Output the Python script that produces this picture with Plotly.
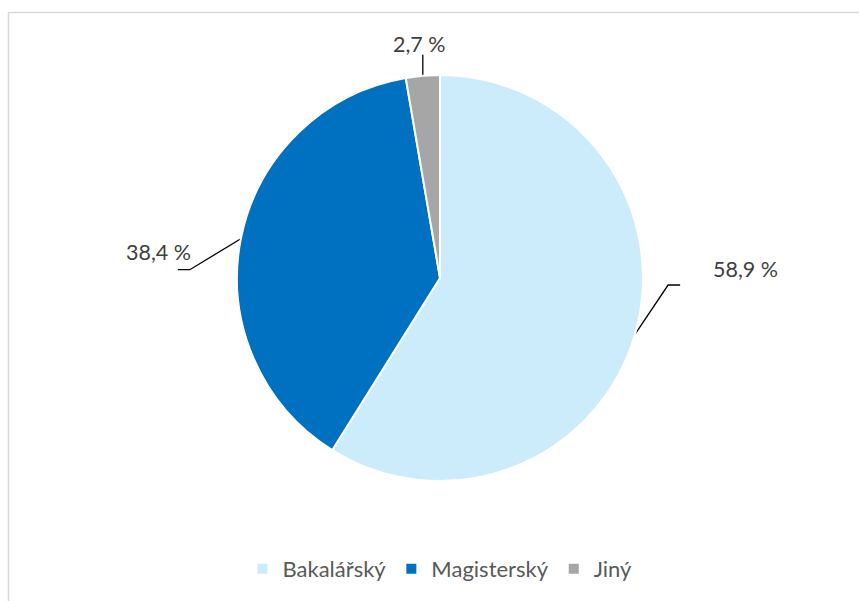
import math
import plotly.graph_objects as go

# ---- data ----
categories = ["Bakalářský", "Magisterský", "Jiný"]
values = [58.9, 38.4, 2.7]
value_labels = ["58,9 %", "38,4 %", "2,7 %"]

# ---- style ----
colors = ["#CCECFC", "#0070C0", "#A6A6A6"]
W, H = 859, 601
CX, CY, R = 440, 278, 203  # pie centre and radius in pixels
FONT = "Lato, 'DejaVu Sans', sans-serif"
TXT = "#595959"
LBL = "#404040"

# leader-line geometry per slice (pixel offsets from slice edge point)
elbow_off = [(33, -49), (-51, 31), (0, -21)]
tail_len = [12, -12, 0]
text_off = [(76, -65), (-48, 13), (-3, -32)]
text_anchor = ["left", "right", "center"]

fig = go.Figure()

fig.add_trace(go.Pie(
    labels=categories, values=values, sort=False, direction="clockwise",
    rotation=0, marker=dict(colors=colors, line=dict(color="white", width=2)),
    textinfo="none", hoverinfo="label+percent",
    domain=dict(x=[(CX - R) / W, (CX + R) / W], y=[1 - (CY + R) / H, 1 - (CY - R) / H]),
    showlegend=True,
))

total = sum(values)
cum = 0
annotations = []
for i, v in enumerate(values):
    mid = (cum + v / 2) / total * 2 * math.pi
    cum += v
    ex = CX + R * math.sin(mid)
    ey = CY - R * math.cos(mid)
    bx, by = ex + elbow_off[i][0], ey + elbow_off[i][1]
    tx, ty = bx + tail_len[i], by
    fig.add_trace(go.Scatter(
        x=[ex, bx, tx], y=[ey, by, ty], mode="lines",
        line=dict(color="#000000", width=1.3), showlegend=False, hoverinfo="skip",
        xaxis="x", yaxis="y",
    ))
    annotations.append(dict(
        x=ex + text_off[i][0], y=ey + text_off[i][1], xref="x", yref="y",
        text=value_labels[i], showarrow=False, xanchor=text_anchor[i], yanchor="middle",
        font=dict(family=FONT, size=21.5, color=LBL),
    ))

fig.update_layout(
    width=W, height=H, margin=dict(l=0, r=0, t=0, b=0),
    paper_bgcolor="white", plot_bgcolor="rgba(0,0,0,0)",
    xaxis=dict(range=[0, W], visible=False, domain=[0, 1], fixedrange=True),
    yaxis=dict(range=[H, 0], visible=False, domain=[0, 1], fixedrange=True),
    annotations=annotations,
    legend=dict(orientation="h", x=440 / W, xanchor="center", y=1 - 569 / H, yanchor="middle",
                font=dict(family=FONT, size=22, color=TXT), itemwidth=30,
                traceorder="normal", bgcolor="rgba(0,0,0,0)"),
    shapes=[dict(type="rect", xref="paper", yref="paper",
                 x0=8.5 / W, x1=1.05, y0=-0.05, y1=1 - 12.5 / H,
                 line=dict(color="#D9D9D9", width=1.5), fillcolor="rgba(0,0,0,0)", layer="below")],
    font=dict(family=FONT),
)

fig.write_html("out.html", config={"displayModeBar": False},
               post_script="document.body.style.margin='0';")
